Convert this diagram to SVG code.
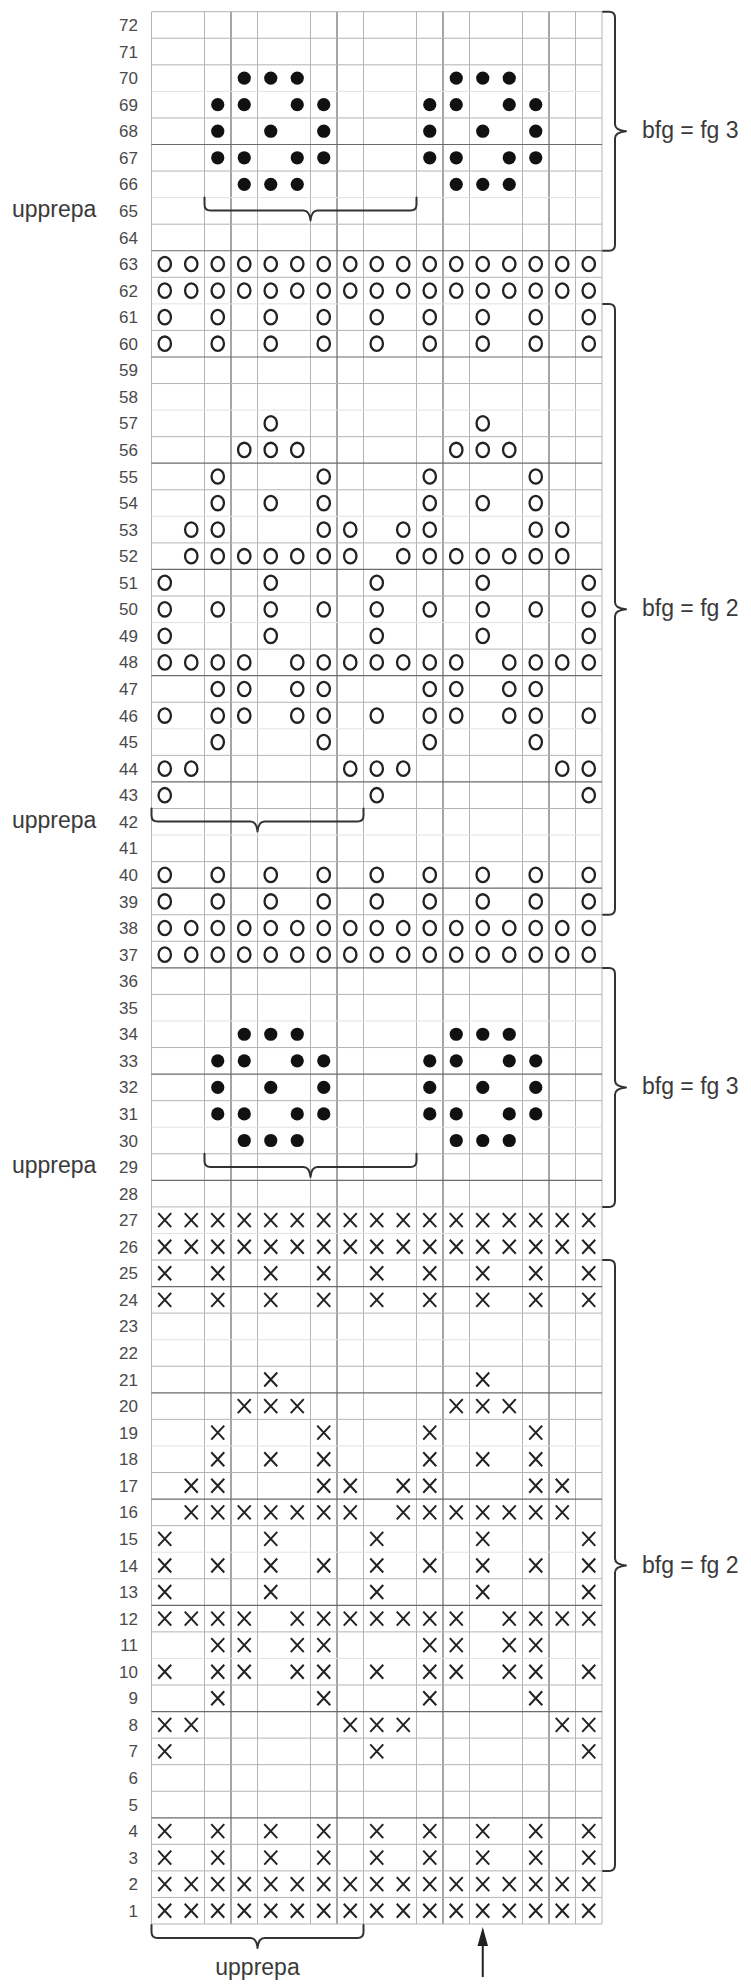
<svg xmlns="http://www.w3.org/2000/svg" width="751" height="1986" viewBox="0 0 751 1986">
<style>
.n{stroke:#b4b4b4;stroke-width:1}
.k{stroke:#6a6a6a;stroke-width:1.2}
.f{stroke:#e2e2e2;stroke-width:1}
.lbl{font-family:"Liberation Sans",Arial,sans-serif;font-size:17px;fill:#4a4a4a;text-anchor:end}
.txt{font-family:"Liberation Sans",Arial,sans-serif;font-size:23px;fill:#3a3a3a}
.br{fill:none;stroke:#333;stroke-width:2;stroke-linecap:round;stroke-linejoin:round}
</style>
<defs>
<ellipse id="o" rx="6.2" ry="7.2" fill="none" stroke="#222" stroke-width="2.3"/>
<path id="x" d="M-6.5,-7L6.5,7M-6.5,7L6.5,-7" stroke="#222" stroke-width="2"/>
<circle id="d" r="6.6" fill="#111"/>
<g id="oAll"><use href="#o" x="164.75"/><use href="#o" x="191.25"/><use href="#o" x="217.75"/><use href="#o" x="244.25"/><use href="#o" x="270.75"/><use href="#o" x="297.25"/><use href="#o" x="323.75"/><use href="#o" x="350.25"/><use href="#o" x="376.75"/><use href="#o" x="403.25"/><use href="#o" x="429.75"/><use href="#o" x="456.25"/><use href="#o" x="482.75"/><use href="#o" x="509.25"/><use href="#o" x="535.75"/><use href="#o" x="562.25"/><use href="#o" x="588.75"/></g>
<g id="oOdd"><use href="#o" x="164.75"/><use href="#o" x="217.75"/><use href="#o" x="270.75"/><use href="#o" x="323.75"/><use href="#o" x="376.75"/><use href="#o" x="429.75"/><use href="#o" x="482.75"/><use href="#o" x="535.75"/><use href="#o" x="588.75"/></g>
<g id="o7"><use href="#o" x="164.75"/><use href="#o" x="376.75"/><use href="#o" x="588.75"/></g>
<g id="o8"><use href="#o" x="164.75"/><use href="#o" x="191.25"/><use href="#o" x="350.25"/><use href="#o" x="376.75"/><use href="#o" x="403.25"/><use href="#o" x="562.25"/><use href="#o" x="588.75"/></g>
<g id="o9"><use href="#o" x="217.75"/><use href="#o" x="323.75"/><use href="#o" x="429.75"/><use href="#o" x="535.75"/></g>
<g id="o10"><use href="#o" x="164.75"/><use href="#o" x="217.75"/><use href="#o" x="244.25"/><use href="#o" x="297.25"/><use href="#o" x="323.75"/><use href="#o" x="376.75"/><use href="#o" x="429.75"/><use href="#o" x="456.25"/><use href="#o" x="509.25"/><use href="#o" x="535.75"/><use href="#o" x="588.75"/></g>
<g id="o11"><use href="#o" x="217.75"/><use href="#o" x="244.25"/><use href="#o" x="297.25"/><use href="#o" x="323.75"/><use href="#o" x="429.75"/><use href="#o" x="456.25"/><use href="#o" x="509.25"/><use href="#o" x="535.75"/></g>
<g id="o12"><use href="#o" x="164.75"/><use href="#o" x="191.25"/><use href="#o" x="217.75"/><use href="#o" x="244.25"/><use href="#o" x="297.25"/><use href="#o" x="323.75"/><use href="#o" x="350.25"/><use href="#o" x="376.75"/><use href="#o" x="403.25"/><use href="#o" x="429.75"/><use href="#o" x="456.25"/><use href="#o" x="509.25"/><use href="#o" x="535.75"/><use href="#o" x="562.25"/><use href="#o" x="588.75"/></g>
<g id="o13"><use href="#o" x="164.75"/><use href="#o" x="270.75"/><use href="#o" x="376.75"/><use href="#o" x="482.75"/><use href="#o" x="588.75"/></g>
<g id="o16"><use href="#o" x="191.25"/><use href="#o" x="217.75"/><use href="#o" x="244.25"/><use href="#o" x="270.75"/><use href="#o" x="297.25"/><use href="#o" x="323.75"/><use href="#o" x="350.25"/><use href="#o" x="403.25"/><use href="#o" x="429.75"/><use href="#o" x="456.25"/><use href="#o" x="482.75"/><use href="#o" x="509.25"/><use href="#o" x="535.75"/><use href="#o" x="562.25"/></g>
<g id="o17"><use href="#o" x="191.25"/><use href="#o" x="217.75"/><use href="#o" x="323.75"/><use href="#o" x="350.25"/><use href="#o" x="403.25"/><use href="#o" x="429.75"/><use href="#o" x="535.75"/><use href="#o" x="562.25"/></g>
<g id="o18"><use href="#o" x="217.75"/><use href="#o" x="270.75"/><use href="#o" x="323.75"/><use href="#o" x="429.75"/><use href="#o" x="482.75"/><use href="#o" x="535.75"/></g>
<g id="o20"><use href="#o" x="244.25"/><use href="#o" x="270.75"/><use href="#o" x="297.25"/><use href="#o" x="456.25"/><use href="#o" x="482.75"/><use href="#o" x="509.25"/></g>
<g id="o21"><use href="#o" x="270.75"/><use href="#o" x="482.75"/></g>

<g id="xAll"><use href="#x" x="164.75"/><use href="#x" x="191.25"/><use href="#x" x="217.75"/><use href="#x" x="244.25"/><use href="#x" x="270.75"/><use href="#x" x="297.25"/><use href="#x" x="323.75"/><use href="#x" x="350.25"/><use href="#x" x="376.75"/><use href="#x" x="403.25"/><use href="#x" x="429.75"/><use href="#x" x="456.25"/><use href="#x" x="482.75"/><use href="#x" x="509.25"/><use href="#x" x="535.75"/><use href="#x" x="562.25"/><use href="#x" x="588.75"/></g>
<g id="xOdd"><use href="#x" x="164.75"/><use href="#x" x="217.75"/><use href="#x" x="270.75"/><use href="#x" x="323.75"/><use href="#x" x="376.75"/><use href="#x" x="429.75"/><use href="#x" x="482.75"/><use href="#x" x="535.75"/><use href="#x" x="588.75"/></g>
<g id="x7"><use href="#x" x="164.75"/><use href="#x" x="376.75"/><use href="#x" x="588.75"/></g>
<g id="x8"><use href="#x" x="164.75"/><use href="#x" x="191.25"/><use href="#x" x="350.25"/><use href="#x" x="376.75"/><use href="#x" x="403.25"/><use href="#x" x="562.25"/><use href="#x" x="588.75"/></g>
<g id="x9"><use href="#x" x="217.75"/><use href="#x" x="323.75"/><use href="#x" x="429.75"/><use href="#x" x="535.75"/></g>
<g id="x10"><use href="#x" x="164.75"/><use href="#x" x="217.75"/><use href="#x" x="244.25"/><use href="#x" x="297.25"/><use href="#x" x="323.75"/><use href="#x" x="376.75"/><use href="#x" x="429.75"/><use href="#x" x="456.25"/><use href="#x" x="509.25"/><use href="#x" x="535.75"/><use href="#x" x="588.75"/></g>
<g id="x11"><use href="#x" x="217.75"/><use href="#x" x="244.25"/><use href="#x" x="297.25"/><use href="#x" x="323.75"/><use href="#x" x="429.75"/><use href="#x" x="456.25"/><use href="#x" x="509.25"/><use href="#x" x="535.75"/></g>
<g id="x12"><use href="#x" x="164.75"/><use href="#x" x="191.25"/><use href="#x" x="217.75"/><use href="#x" x="244.25"/><use href="#x" x="297.25"/><use href="#x" x="323.75"/><use href="#x" x="350.25"/><use href="#x" x="376.75"/><use href="#x" x="403.25"/><use href="#x" x="429.75"/><use href="#x" x="456.25"/><use href="#x" x="509.25"/><use href="#x" x="535.75"/><use href="#x" x="562.25"/><use href="#x" x="588.75"/></g>
<g id="x13"><use href="#x" x="164.75"/><use href="#x" x="270.75"/><use href="#x" x="376.75"/><use href="#x" x="482.75"/><use href="#x" x="588.75"/></g>
<g id="x16"><use href="#x" x="191.25"/><use href="#x" x="217.75"/><use href="#x" x="244.25"/><use href="#x" x="270.75"/><use href="#x" x="297.25"/><use href="#x" x="323.75"/><use href="#x" x="350.25"/><use href="#x" x="403.25"/><use href="#x" x="429.75"/><use href="#x" x="456.25"/><use href="#x" x="482.75"/><use href="#x" x="509.25"/><use href="#x" x="535.75"/><use href="#x" x="562.25"/></g>
<g id="x17"><use href="#x" x="191.25"/><use href="#x" x="217.75"/><use href="#x" x="323.75"/><use href="#x" x="350.25"/><use href="#x" x="403.25"/><use href="#x" x="429.75"/><use href="#x" x="535.75"/><use href="#x" x="562.25"/></g>
<g id="x18"><use href="#x" x="217.75"/><use href="#x" x="270.75"/><use href="#x" x="323.75"/><use href="#x" x="429.75"/><use href="#x" x="482.75"/><use href="#x" x="535.75"/></g>
<g id="x20"><use href="#x" x="244.25"/><use href="#x" x="270.75"/><use href="#x" x="297.25"/><use href="#x" x="456.25"/><use href="#x" x="482.75"/><use href="#x" x="509.25"/></g>
<g id="x21"><use href="#x" x="270.75"/><use href="#x" x="482.75"/></g>

<g id="d11"><use href="#d" x="217.75"/><use href="#d" x="244.25"/><use href="#d" x="297.25"/><use href="#d" x="323.75"/><use href="#d" x="429.75"/><use href="#d" x="456.25"/><use href="#d" x="509.25"/><use href="#d" x="535.75"/></g>
<g id="d18"><use href="#d" x="217.75"/><use href="#d" x="270.75"/><use href="#d" x="323.75"/><use href="#d" x="429.75"/><use href="#d" x="482.75"/><use href="#d" x="535.75"/></g>
<g id="d20"><use href="#d" x="244.25"/><use href="#d" x="270.75"/><use href="#d" x="297.25"/><use href="#d" x="456.25"/><use href="#d" x="482.75"/><use href="#d" x="509.25"/></g>

<g id="oBlock">
<use href="#oAll" y="0"/><use href="#oAll" y="-26.56"/>
<use href="#oOdd" y="-53.12"/><use href="#oOdd" y="-79.68"/>
<use href="#o7" y="-159.36"/><use href="#o8" y="-185.92"/><use href="#o9" y="-212.48"/><use href="#o10" y="-239.04"/><use href="#o11" y="-265.6"/><use href="#o12" y="-292.16"/><use href="#o13" y="-318.72"/><use href="#oOdd" y="-345.28"/><use href="#o13" y="-371.84"/><use href="#o16" y="-398.4"/><use href="#o17" y="-424.96"/><use href="#o18" y="-451.52"/><use href="#o9" y="-478.08"/><use href="#o20" y="-504.64"/><use href="#o21" y="-531.2"/>
<use href="#oOdd" y="-610.88"/><use href="#oOdd" y="-637.44"/>
<use href="#oAll" y="-664"/><use href="#oAll" y="-690.56"/>
</g>
<g id="xBlock">
<use href="#xAll" y="0"/><use href="#xAll" y="-26.56"/>
<use href="#xOdd" y="-53.12"/><use href="#xOdd" y="-79.68"/>
<use href="#x7" y="-159.36"/><use href="#x8" y="-185.92"/><use href="#x9" y="-212.48"/><use href="#x10" y="-239.04"/><use href="#x11" y="-265.6"/><use href="#x12" y="-292.16"/><use href="#x13" y="-318.72"/><use href="#xOdd" y="-345.28"/><use href="#x13" y="-371.84"/><use href="#x16" y="-398.4"/><use href="#x17" y="-424.96"/><use href="#x18" y="-451.52"/><use href="#x9" y="-478.08"/><use href="#x20" y="-504.64"/><use href="#x21" y="-531.2"/>
<use href="#xOdd" y="-610.88"/><use href="#xOdd" y="-637.44"/>
<use href="#xAll" y="-664"/><use href="#xAll" y="-690.56"/>
</g>
<g id="dBlock">
<use href="#d20" y="0"/><use href="#d11" y="-26.56"/><use href="#d18" y="-53.12"/><use href="#d11" y="-79.68"/><use href="#d20" y="-106.24"/>
</g>
</defs>
<rect width="751" height="1986" fill="#fff"/>

<g id="grid">
<g id="vlines">
<line class="n" x1="151.5" y1="11.7" x2="151.5" y2="1924"/>
<line class="n" x1="204.5" y1="11.7" x2="204.5" y2="1924"/>
<line class="k" x1="231" y1="11.7" x2="231" y2="1924"/>
<line class="n" x1="257.5" y1="11.7" x2="257.5" y2="1924"/>
<line class="n" x1="310.5" y1="11.7" x2="310.5" y2="1924"/>
<line class="k" x1="337" y1="11.7" x2="337" y2="1924"/>
<line class="n" x1="363.5" y1="11.7" x2="363.5" y2="1924"/>
<line class="n" x1="416.5" y1="11.7" x2="416.5" y2="1924"/>
<line class="k" x1="443" y1="11.7" x2="443" y2="1924"/>
<line class="n" x1="469.5" y1="11.7" x2="469.5" y2="1924"/>
<line class="n" x1="522.5" y1="11.7" x2="522.5" y2="1924"/>
<line class="k" x1="549" y1="11.7" x2="549" y2="1924"/>
<line class="n" x1="575.5" y1="11.7" x2="575.5" y2="1924"/>
<line class="n" x1="602" y1="11.7" x2="602" y2="1924"/>
</g>
<g id="hlines">
<line class="n" x1="151.5" x2="602" y1="11.7" y2="11.7"/>
<line class="n" x1="151.5" x2="602" y1="38.26" y2="38.26"/>
<line class="n" x1="151.5" x2="602" y1="64.82" y2="64.82"/>
<line class="f" x1="151.5" x2="602" y1="91.38" y2="91.38"/>
<line class="n" x1="151.5" x2="602" y1="117.94" y2="117.94"/>
<line class="k" x1="151.5" x2="602" y1="144.5" y2="144.5"/>
<line class="n" x1="151.5" x2="602" y1="171.06" y2="171.06"/>
<line class="f" x1="151.5" x2="602" y1="197.62" y2="197.62"/>
<line class="n" x1="151.5" x2="602" y1="224.18" y2="224.18"/>
<line class="k" x1="151.5" x2="602" y1="250.74" y2="250.74"/>
<line class="n" x1="151.5" x2="602" y1="277.3" y2="277.3"/>
<line class="f" x1="151.5" x2="602" y1="303.86" y2="303.86"/>
<line class="n" x1="151.5" x2="602" y1="330.42" y2="330.42"/>
<line class="k" x1="151.5" x2="602" y1="356.98" y2="356.98"/>
<line class="n" x1="151.5" x2="602" y1="383.54" y2="383.54"/>
<line class="f" x1="151.5" x2="602" y1="410.1" y2="410.1"/>
<line class="n" x1="151.5" x2="602" y1="436.66" y2="436.66"/>
<line class="k" x1="151.5" x2="602" y1="463.22" y2="463.22"/>
<line class="n" x1="151.5" x2="602" y1="489.78" y2="489.78"/>
<line class="f" x1="151.5" x2="602" y1="516.34" y2="516.34"/>
<line class="n" x1="151.5" x2="602" y1="542.9" y2="542.9"/>
<line class="k" x1="151.5" x2="602" y1="569.46" y2="569.46"/>
<line class="n" x1="151.5" x2="602" y1="596.02" y2="596.02"/>
<line class="f" x1="151.5" x2="602" y1="622.58" y2="622.58"/>
<line class="n" x1="151.5" x2="602" y1="649.14" y2="649.14"/>
<line class="k" x1="151.5" x2="602" y1="675.7" y2="675.7"/>
<line class="n" x1="151.5" x2="602" y1="702.26" y2="702.26"/>
<line class="f" x1="151.5" x2="602" y1="728.82" y2="728.82"/>
<line class="n" x1="151.5" x2="602" y1="755.38" y2="755.38"/>
<line class="k" x1="151.5" x2="602" y1="781.94" y2="781.94"/>
<line class="n" x1="151.5" x2="602" y1="808.5" y2="808.5"/>
<line class="f" x1="151.5" x2="602" y1="835.06" y2="835.06"/>
<line class="n" x1="151.5" x2="602" y1="861.62" y2="861.62"/>
<line class="k" x1="151.5" x2="602" y1="888.18" y2="888.18"/>
<line class="n" x1="151.5" x2="602" y1="914.74" y2="914.74"/>
<line class="n" x1="151.5" x2="602" y1="941.3" y2="941.3"/>
<line class="k" x1="151.5" x2="602" y1="967.86" y2="967.86"/>
<line class="n" x1="151.5" x2="602" y1="994.42" y2="994.42"/>
<line class="f" x1="151.5" x2="602" y1="1020.98" y2="1020.98"/>
<line class="n" x1="151.5" x2="602" y1="1047.54" y2="1047.54"/>
<line class="k" x1="151.5" x2="602" y1="1074.1" y2="1074.1"/>
<line class="n" x1="151.5" x2="602" y1="1100.66" y2="1100.66"/>
<line class="f" x1="151.5" x2="602" y1="1127.22" y2="1127.22"/>
<line class="n" x1="151.5" x2="602" y1="1153.78" y2="1153.78"/>
<line class="k" x1="151.5" x2="602" y1="1180.34" y2="1180.34"/>
<line class="n" x1="151.5" x2="602" y1="1206.9" y2="1206.9"/>
<line class="f" x1="151.5" x2="602" y1="1233.46" y2="1233.46"/>
<line class="n" x1="151.5" x2="602" y1="1260.02" y2="1260.02"/>
<line class="k" x1="151.5" x2="602" y1="1286.58" y2="1286.58"/>
<line class="n" x1="151.5" x2="602" y1="1313.14" y2="1313.14"/>
<line class="f" x1="151.5" x2="602" y1="1339.7" y2="1339.7"/>
<line class="n" x1="151.5" x2="602" y1="1366.26" y2="1366.26"/>
<line class="k" x1="151.5" x2="602" y1="1392.82" y2="1392.82"/>
<line class="n" x1="151.5" x2="602" y1="1419.38" y2="1419.38"/>
<line class="f" x1="151.5" x2="602" y1="1445.94" y2="1445.94"/>
<line class="n" x1="151.5" x2="602" y1="1472.5" y2="1472.5"/>
<line class="k" x1="151.5" x2="602" y1="1499.06" y2="1499.06"/>
<line class="n" x1="151.5" x2="602" y1="1525.62" y2="1525.62"/>
<line class="f" x1="151.5" x2="602" y1="1552.18" y2="1552.18"/>
<line class="n" x1="151.5" x2="602" y1="1578.74" y2="1578.74"/>
<line class="k" x1="151.5" x2="602" y1="1605.3" y2="1605.3"/>
<line class="n" x1="151.5" x2="602" y1="1631.86" y2="1631.86"/>
<line class="f" x1="151.5" x2="602" y1="1658.42" y2="1658.42"/>
<line class="n" x1="151.5" x2="602" y1="1684.98" y2="1684.98"/>
<line class="k" x1="151.5" x2="602" y1="1711.54" y2="1711.54"/>
<line class="n" x1="151.5" x2="602" y1="1738.1" y2="1738.1"/>
<line class="n" x1="151.5" x2="602" y1="1764.66" y2="1764.66"/>
<line class="n" x1="151.5" x2="602" y1="1791.22" y2="1791.22"/>
<line class="k" x1="151.5" x2="602" y1="1817.78" y2="1817.78"/>
<line class="n" x1="151.5" x2="602" y1="1844.34" y2="1844.34"/>
<line class="n" x1="151.5" x2="602" y1="1870.9" y2="1870.9"/>
<line class="n" x1="151.5" x2="602" y1="1897.46" y2="1897.46"/>
<line class="n" x1="151.5" x2="602" y1="1924.02" y2="1924.02"/>
</g>
</g>

<g id="symbols">
<use href="#dBlock" transform="translate(0,184.34)"/>
<use href="#oBlock" transform="translate(0,954.58)"/>
<use href="#dBlock" transform="translate(0,1140.5)"/>
<use href="#xBlock" transform="translate(0,1910.74)"/>
</g>

<g id="rownumbers" class="lbl">
<text x="138" y="31">72</text><text x="138" y="57.5">71</text><text x="138" y="84.1">70</text><text x="138" y="110.7">69</text><text x="138" y="137.2">68</text><text x="138" y="163.8">67</text><text x="138" y="190.3">66</text><text x="138" y="216.9">65</text><text x="138" y="243.5">64</text><text x="138" y="270">63</text>
<text x="138" y="296.6">62</text><text x="138" y="323.1">61</text><text x="138" y="349.7">60</text><text x="138" y="376.3">59</text><text x="138" y="402.8">58</text><text x="138" y="429.4">57</text><text x="138" y="455.9">56</text><text x="138" y="482.5">55</text><text x="138" y="509.1">54</text><text x="138" y="535.6">53</text>
<text x="138" y="562.2">52</text><text x="138" y="588.7">51</text><text x="138" y="615.3">50</text><text x="138" y="641.9">49</text><text x="138" y="668.4">48</text><text x="138" y="695">47</text><text x="138" y="721.5">46</text><text x="138" y="748.1">45</text><text x="138" y="774.7">44</text><text x="138" y="801.2">43</text>
<text x="138" y="827.8">42</text><text x="138" y="854.3">41</text><text x="138" y="880.9">40</text><text x="138" y="907.5">39</text><text x="138" y="934">38</text><text x="138" y="960.6">37</text><text x="138" y="987.1">36</text><text x="138" y="1013.7">35</text><text x="138" y="1040.3">34</text><text x="138" y="1066.8">33</text>
<text x="138" y="1093.4">32</text><text x="138" y="1119.9">31</text><text x="138" y="1146.5">30</text><text x="138" y="1173.1">29</text><text x="138" y="1199.6">28</text><text x="138" y="1226.2">27</text><text x="138" y="1252.7">26</text><text x="138" y="1279.3">25</text><text x="138" y="1305.9">24</text><text x="138" y="1332.4">23</text>
<text x="138" y="1359">22</text><text x="138" y="1385.5">21</text><text x="138" y="1412.1">20</text><text x="138" y="1438.7">19</text><text x="138" y="1465.2">18</text><text x="138" y="1491.8">17</text><text x="138" y="1518.3">16</text><text x="138" y="1544.9">15</text><text x="138" y="1571.5">14</text><text x="138" y="1598">13</text>
<text x="138" y="1624.6">12</text><text x="138" y="1651.1">11</text><text x="138" y="1677.7">10</text><text x="138" y="1704.3">9</text><text x="138" y="1730.8">8</text><text x="138" y="1757.4">7</text><text x="138" y="1783.9">6</text><text x="138" y="1810.5">5</text><text x="138" y="1837.1">4</text><text x="138" y="1863.6">3</text>
<text x="138" y="1890.2">2</text><text x="138" y="1916.7">1</text>
</g>

<g id="connectors">
<path class="br" d="M603,11.7H609Q615,11.7 615,17.7V124.2Q615,130.2 626,131.2Q615,132.2 615,138.2V244.7Q615,250.7 609,250.7H603"/>
<path class="br" d="M603,303.9H609Q615,303.9 615,309.9V602.3Q615,608.3 626,609.3Q615,610.3 615,616.3V908.7Q615,914.7 609,914.7H603"/>
<path class="br" d="M603,967.9H609Q615,967.9 615,973.9V1080.4Q615,1086.4 626,1087.4Q615,1088.4 615,1094.4V1200.9Q615,1206.9 609,1206.9H603"/>
<path class="br" d="M603,1260H609Q615,1260 615,1266V1558.5Q615,1564.5 626,1565.5Q615,1566.5 615,1572.5V1864.9Q615,1870.9 609,1870.9H603"/>
<path class="br" d="M204.5,197.6V204.5Q204.5,210.5 210.5,210.5H303.5Q309.5,210.5 310.5,220.5Q311.5,210.5 317.5,210.5H410.5Q416.5,210.5 416.5,204.5V197.6"/>
<path class="br" d="M151.5,808.5V815.5Q151.5,821.5 157.5,821.5H250.5Q256.5,821.5 257.5,831.5Q258.5,821.5 264.5,821.5H357.5Q363.5,821.5 363.5,815.5V808.5"/>
<path class="br" d="M204.5,1153.8V1161Q204.5,1167 210.5,1167H303.5Q309.5,1167 310.5,1177Q311.5,1167 317.5,1167H410.5Q416.5,1167 416.5,1161V1153.8"/>
<path class="br" d="M151.5,1925V1932Q151.5,1938 157.5,1938H250.5Q256.5,1938 257.5,1948Q258.5,1938 264.5,1938H357.5Q363.5,1938 363.5,1932V1925"/>
<line x1="482.75" y1="1944" x2="482.75" y2="1977" stroke="#222" stroke-width="2"/>
<path d="M482.75,1927L477.5,1946H488Z" fill="#222"/>
</g>

<g id="labels" class="txt">
<text x="642" y="138">bfg = fg 3</text>
<text x="642" y="616.3">bfg = fg 2</text>
<text x="642" y="1094.4">bfg = fg 3</text>
<text x="642" y="1572.5">bfg = fg 2</text>
<text x="12" y="217">upprepa</text>
<text x="12" y="828">upprepa</text>
<text x="12" y="1173">upprepa</text>
<text x="257.5" y="1975" text-anchor="middle">upprepa</text>
</g>
</svg>
